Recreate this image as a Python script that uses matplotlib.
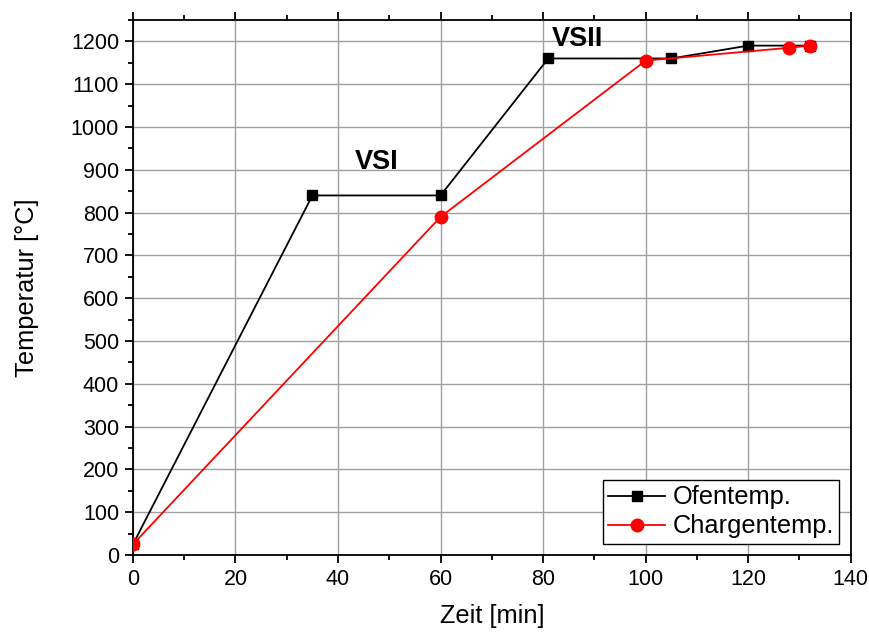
import matplotlib.pyplot as plt
from matplotlib.ticker import MultipleLocator

plt.rcParams['font.family'] = ['Liberation Sans', 'DejaVu Sans']

# furnace temperature
ofen_zeit = [0, 35, 60, 81, 105, 120, 132]
ofen_temp = [25, 840, 840, 1160, 1160, 1190, 1190]

# load (charge) temperature
charge_zeit = [0, 60, 100, 128, 132]
charge_temp = [25, 790, 1155, 1185, 1190]

fig = plt.figure(figsize=(8.69, 6.37), dpi=100)
ax = fig.add_axes([0.153, 0.1287, 0.826, 0.84])

ax.plot(ofen_zeit, ofen_temp, color='black', lw=1.3, marker='s', ms=7.8,
        label='Ofentemp.', zorder=3)
ax.plot(charge_zeit, charge_temp, color='red', lw=1.3, marker='o', ms=9,
        label='Chargentemp.', zorder=4)

# holding stages
ax.text(47.5, 918, 'VSI', fontsize=19.5, fontweight='bold', ha='center', va='center')
ax.text(86.8, 1205, 'VSII', fontsize=19.5, fontweight='bold', ha='center', va='center')

ax.set_xlim(0, 140)
ax.set_ylim(0, 1250)
ax.xaxis.set_major_locator(MultipleLocator(20))
ax.xaxis.set_minor_locator(MultipleLocator(10))
ax.yaxis.set_major_locator(MultipleLocator(100))
ax.yaxis.set_minor_locator(MultipleLocator(50))
ax.tick_params(which='both', direction='out', width=1.3, labelsize=15.5,
               top=True, right=False)
ax.tick_params(which='major', length=6, pad=4)
ax.tick_params(which='minor', length=3.5)
for sp in ax.spines.values():
    sp.set_linewidth(1.3)

ax.grid(True, which='major', color='#a0a0a0', lw=1)
ax.set_axisbelow(True)

ax.set_xlabel('Zeit [min]', fontsize=18.3, labelpad=10)
ax.set_ylabel('Temperatur [°C]', fontsize=18.3, labelpad=23)

leg = ax.legend(loc='lower right', fontsize=18.3, fancybox=False, framealpha=1,
                edgecolor='black', handlelength=2.25, borderaxespad=0.45,
                handletextpad=0.3, borderpad=0.2, labelspacing=0.2)
leg.get_frame().set_linewidth(1)

fig.savefig('out.png', dpi=100)
